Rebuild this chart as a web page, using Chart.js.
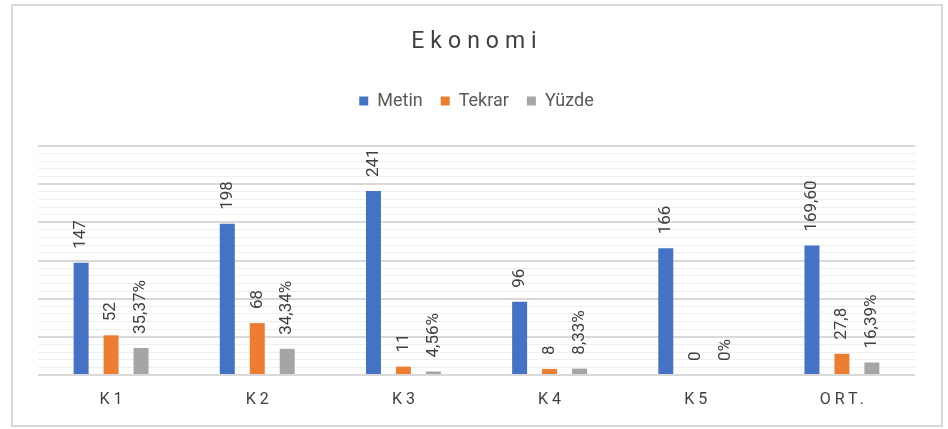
<!DOCTYPE html>
<html>
<head>
<meta charset="utf-8">
<script src="https://cdn.jsdelivr.net/npm/chart.js@4"></script>
<style>
  html, body { margin: 0; padding: 0; background: #fff; }
  #kutu { position: relative; width: 948px; height: 429px; }
</style>
</head>
<body>
<div id="kutu"><canvas id="grafik"></canvas></div>
<script>
// veriler
var kategoriler = ["K1", "K2", "K3", "K4", "K5", "ORT."];
var metin = [147, 198, 241, 96, 166, 169.6];
var tekrar = [52, 68, 11, 8, 0, 27.8];
var yuzde = [35.37, 34.34, 4.56, 8.33, 0, 16.39];
var metinEtiket = ["147", "198", "241", "96", "166", "169,60"];
var tekrarEtiket = ["52", "68", "11", "8", "0", "27,8"];
var yuzdeEtiket = ["35,37%", "34,34%", "4,56%", "8,33%", "0%", "16,39%"];

var yaziFont = "Roboto, 'Liberation Sans', sans-serif";

// çerçeve
var cerceve = {
    id: 'cerceve',
    beforeInit: function (chart) {
        // legend ile grafik arasına boşluk
        var eskiFit = chart.legend.fit;
        chart.legend.fit = function () {
            eskiFit.bind(chart.legend)();
            this.height += 26;
        };
    },
    beforeDraw: function (chart) {
        var ctx = chart.ctx;
        ctx.save();
        ctx.fillStyle = '#ffffff';
        ctx.fillRect(0, 0, chart.width, chart.height);
        ctx.strokeStyle = '#d9d9d9';
        ctx.lineWidth = 2;
        ctx.strokeRect(12, 5, 930, 421);
        ctx.restore();
    }
};

// başlık, eksen yazıları ve değer etiketleri
var yazilar = {
    id: 'yazilar',
    afterDraw: function (chart) {
        var ctx = chart.ctx;
        ctx.save();
        // başlık
        ctx.fillStyle = '#404040';
        ctx.font = "23px " + yaziFont;
        ctx.letterSpacing = '6px';
        ctx.textAlign = 'center';
        ctx.textBaseline = 'middle';
        ctx.fillText('Ekonomi', 477, 42);

        // x ekseni
        ctx.font = "16px " + yaziFont;
        ctx.letterSpacing = '4px';
        ctx.fillStyle = '#404040';
        var x = chart.scales.x;
        for (var i = 0; i < kategoriler.length; i++) {
            ctx.fillText(kategoriler[i], x.getPixelForValue(i) + 2, 400);
        }

        // değer etiketleri
        var etiketler = [metinEtiket, tekrarEtiket, yuzdeEtiket];
        ctx.letterSpacing = '0px';
        ctx.font = "17px " + yaziFont;
        ctx.textAlign = 'left';
        chart.data.datasets.forEach(function (ds, d) {
            var meta = chart.getDatasetMeta(d);
            meta.data.forEach(function (bar, j) {
                ctx.save();
                ctx.translate(bar.x, bar.y - 14);
                ctx.rotate(-Math.PI / 2);
                ctx.fillText(etiketler[d][j], 0, 0);
                ctx.restore();
            });
        });
        ctx.restore();
    }
};

const ctx = document.getElementById('grafik');

var grafik = new Chart(ctx, {
    type: 'bar',
    data: {
        labels: kategoriler,
        datasets: [{
            label: 'Metin',
            data: metin,
            backgroundColor: '#4472c4'
        }, {
            label: 'Tekrar',
            data: tekrar,
            backgroundColor: '#ed7d31'
        }, {
            label: 'Yüzde',
            data: yuzde,
            backgroundColor: '#a5a5a5'
        }]
    },
    options: {
        responsive: true,
        maintainAspectRatio: false,
        animation: false,
        categoryPercentage: 0.615,
        barPercentage: 0.5,
        layout: {
            padding: { left: 38, right: 33, top: 74, bottom: 4 }
        },
        plugins: {
            title: { display: false },
            tooltip: { enabled: false },
            legend: {
                display: true,
                position: 'top',
                labels: {
                    boxWidth: 9,
                    boxHeight: 9,
                    color: '#595959',
                    font: { family: yaziFont, size: 18 },
                    padding: 18
                }
            }
        },
        scales: {
            x: {
                grid: { display: false },
                border: { display: false },
                ticks: { color: 'rgba(0,0,0,0)', font: { size: 15 }, padding: 12 }
            },
            y: {
                min: 0,
                max: 300,
                ticks: { display: false, stepSize: 10 },
                border: { display: false },
                grid: {
                    drawTicks: false,
                    color: function (c) {
                        return c.tick.value % 50 === 0 ? '#d9d9d9' : '#efefef';
                    },
                    lineWidth: function (c) {
                        return c.tick.value % 50 === 0 ? 2 : 1;
                    }
                }
            }
        }
    },
    plugins: [cerceve, yazilar]
});
</script>
</body>
</html>
